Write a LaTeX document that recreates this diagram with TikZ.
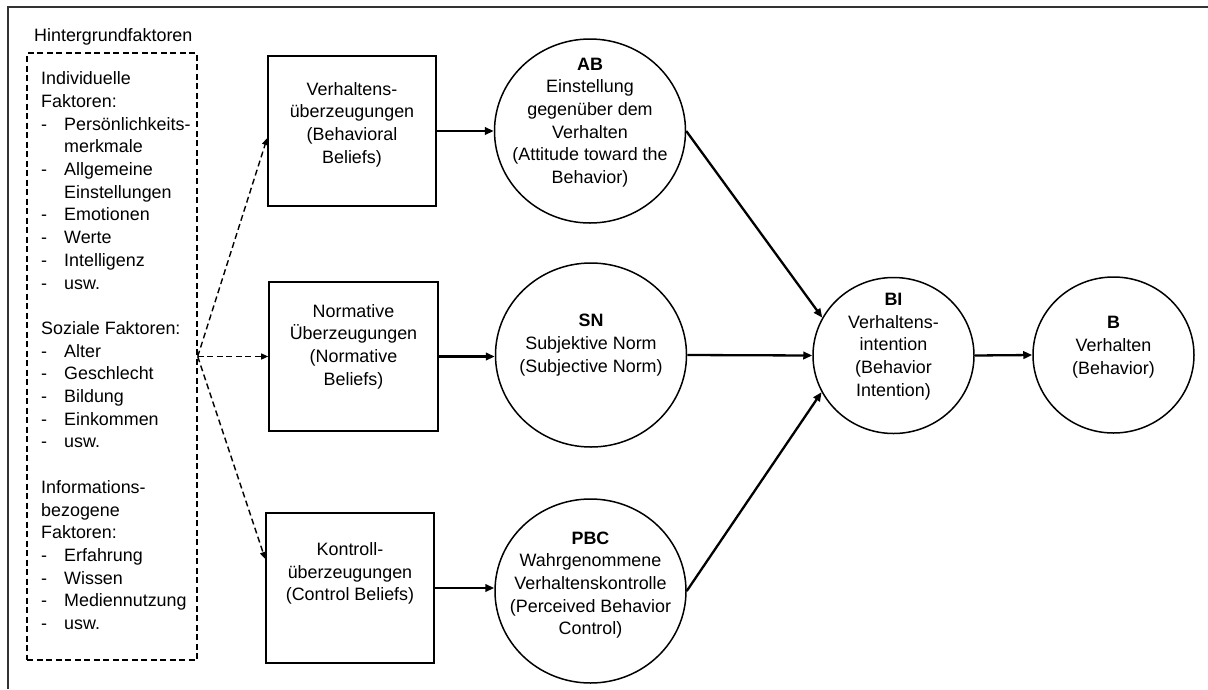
\documentclass[tikz,border=0pt]{standalone}
\usepackage{fontspec}
\setmainfont{Liberation Sans}
\usetikzlibrary{arrows.meta,shapes.geometric}
\begin{document}
\begin{tikzpicture}[x=1pt,y=-1pt,
  every node/.style={font=\fontsize{17.9}{22.7}\selectfont},
  txt/.style={align=center,inner sep=0pt},
  boxnode/.style={draw,line width=1.6pt,minimum width=168pt,minimum height=150pt,inner sep=0pt},
  circnode/.style={ellipse,draw,line width=1.5pt,minimum width=191pt,minimum height=184pt,inner sep=0pt},
  smallcirc/.style={ellipse,draw,line width=1.5pt,minimum width=161pt,minimum height=156pt,inner sep=0pt},
  arr/.style={line width=2.3pt,-{Triangle[length=9pt,width=7.5pt]}},
  darr/.style={line width=1.4pt,dash pattern=on 6pt off 3.5pt,-{Triangle[length=7pt,width=6pt]}},
  dashbox/.style={draw,line width=1.4pt,dash pattern=on 6pt off 3.5pt,minimum width=170pt,minimum height=607pt,inner sep=0pt}
]
\useasboundingbox (0,0) rectangle (1208,689);
% outer frame (top and left edge)
\draw[line width=1.5pt,black!80] (8,689) -- (8,7) -- (1208,7);

% background factors
\node[anchor=base west,inner sep=0pt] (title) at (34,41) {Hintergrundfaktoren};
\node[dashbox] (bg) at (112,356.5) {};
\newcommand{\itm}[1]{\makebox[23pt][l]{-}#1}
\node[anchor=north west,align=left,inner sep=0pt] (list) at (41,71.6) {%
Individuelle\\
Faktoren:\\
\itm{Persönlichkeits-}\\
\hspace*{23pt}merkmale\\
\itm{Allgemeine}\\
\hspace*{23pt}Einstellungen\\
\itm{Emotionen}\\
\itm{Werte}\\
\itm{Intelligenz}\\
\itm{usw.}\\
\mbox{}\\
Soziale Faktoren:\\
\itm{Alter}\\
\itm{Geschlecht}\\
\itm{Bildung}\\
\itm{Einkommen}\\
\itm{usw.}\\
\mbox{}\\
Informations-\\
bezogene\\
Faktoren:\\
\itm{Erfahrung}\\
\itm{Wissen}\\
\itm{Mediennutzung}\\
\itm{usw.}};

% belief boxes
\node[boxnode] (b1) at (352,131) {};
\node[txt] (b1t) at ([yshift=6.5pt]b1.center) {Verhaltens-\\überzeugungen\\(Behavioral\\Beliefs)};
\node[boxnode,minimum width=169pt,minimum height=149pt] (b2) at (353.5,356.5) {};
\node[txt] (b2t) at ([yshift=10pt]b2.center) {Normative\\Überzeugungen\\(Normative\\Beliefs)};
\node[boxnode] (b3) at (350,588) {};
\node[txt] (b3t) at ([yshift=14.5pt]b3.center) {Kontroll-\\überzeugungen\\(Control Beliefs)};

% circles
\node[circnode] (AB) at (590,131) {};
\node[txt] (ABt) at ([yshift=8.5pt]AB.center) {\textbf{AB}\\Einstellung\\gegenüber dem\\Verhalten\\(Attitude toward the\\Behavior)};
\node[circnode] (SN) at (591,355) {};
\node[txt] (SNt) at ([yshift=10pt]SN.center) {\textbf{SN}\\Subjektive Norm\\(Subjective Norm)};
\node[circnode] (PBC) at (590.5,591) {};
\node[txt] (PBCt) at ([yshift=6pt]PBC.center) {\textbf{PBC}\\Wahrgenommene\\Verhaltenskontrolle\\(Perceived Behavior\\Control)};
\node[smallcirc] (BI) at (893.5,355.5) {};
\node[txt] (BIt) at ([yshift=9pt]BI.center) {\textbf{BI}\\Verhaltens-\\intention\\(Behavior\\Intention)};
\node[smallcirc] (B) at (1113.5,355) {};
\node[txt] (Bt) at ([yshift=8pt]B.center) {\textbf{B}\\Verhalten\\(Behavior)};

% dashed arrows
\draw[darr] (bg.east) -- ([yshift=-7pt]b1.west);
\draw[darr] (bg.east) -- (b2.west);
\draw[darr] (bg.east) -- ([yshift=29pt]b3.west);

% solid arrows
\draw[arr] (b1.east) -- (AB.west);
\draw[arr] (b2.east) -- (b2.east -| SN.west);
\draw[arr] (b3.east) -- (b3.east -| PBC.west);
\draw[arr] (AB.east) -- (BI.152);
\draw[arr] (SN.east) -- (BI.west);
\draw[arr] (PBC.east) -- (BI.207);
\draw[arr] (BI.east) -- (B.west);
\end{tikzpicture}
\end{document}
